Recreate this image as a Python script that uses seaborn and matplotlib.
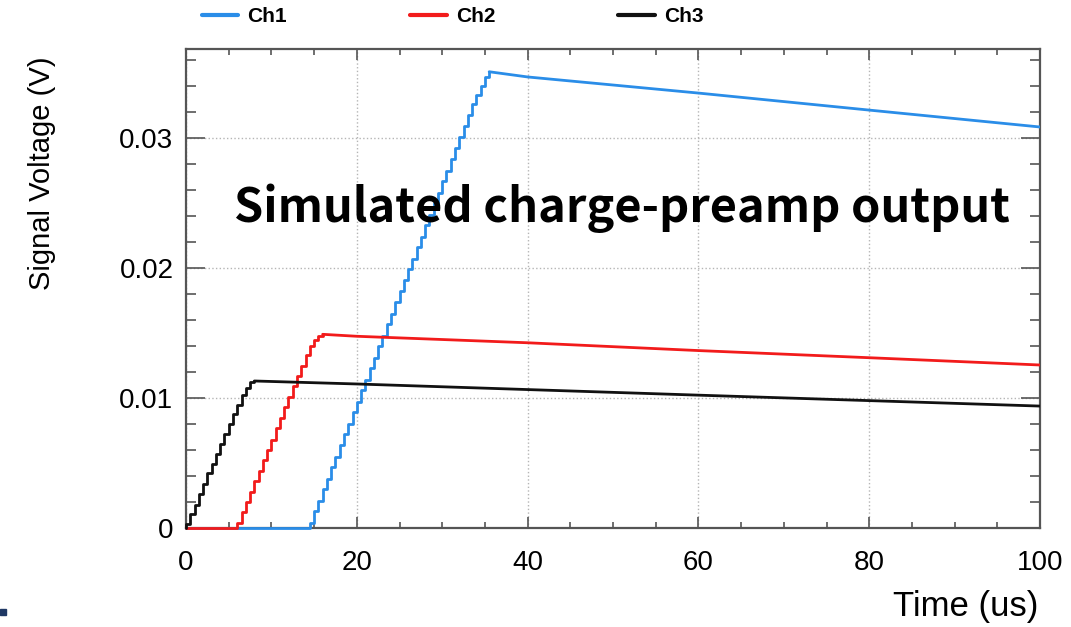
import numpy as np
import pandas as pd
import matplotlib
matplotlib.use('Agg')
import matplotlib.pyplot as plt
import seaborn as sns
from matplotlib.lines import Line2D
from matplotlib.patches import Rectangle
from matplotlib.ticker import MultipleLocator

channels = ['Ch1', 'Ch2', 'Ch3']
colors = ['#2a8de8', '#f21b1b', '#111111']
bin_width = 0.5  # us

# rising edge: first bin left edge and one value per 0.5 us bin
ch1_rise_start = 14.5
ch1_rise = [0.0004, 0.0013, 0.0021, 0.0030, 0.0038, 0.0047, 0.0055, 0.0064, 0.0072, 0.0080,
            0.0089, 0.0097, 0.0106, 0.0114, 0.0123, 0.0131, 0.0140, 0.0148, 0.0157, 0.0165,
            0.0174, 0.0182, 0.0191, 0.0199, 0.0207, 0.0216, 0.0224, 0.0233, 0.0241, 0.0250,
            0.0258, 0.0267, 0.0275, 0.0284, 0.0292, 0.0301, 0.0309, 0.0318, 0.0326, 0.0333,
            0.0340, 0.0347]
ch2_rise_start = 6.0
ch2_rise = [0.0004, 0.0012, 0.0020, 0.0028, 0.0036, 0.0044, 0.0052, 0.0060, 0.0068, 0.0077,
            0.0085, 0.0093, 0.0101, 0.0109, 0.0117, 0.0125, 0.0133, 0.0140, 0.0145, 0.0148]
ch3_rise_start = 0.0
ch3_rise = [0.0003, 0.0011, 0.0018, 0.0026, 0.0034, 0.0042, 0.0049, 0.0057, 0.0065, 0.0072,
            0.0080, 0.0088, 0.0095, 0.0102, 0.0108, 0.0112]

# slow decay after the peak
ch1_decay_t = [35.5, 40, 60, 80, 100]
ch1_decay = [0.0351, 0.0347, 0.03346, 0.03215, 0.03085]
ch2_decay_t = [16, 20, 40, 60, 80, 100]
ch2_decay = [0.0149, 0.01475, 0.01425, 0.01365, 0.01310, 0.01254]
ch3_decay_t = [8, 20, 40, 60, 80, 100]
ch3_decay = [0.01131, 0.01108, 0.01065, 0.01022, 0.00980, 0.00938]


def _rise_frame(name, start, vals, decay_t, decay_v):
    t = [0.0] + [start + bin_width * i for i in range(len(vals))] + [decay_t[0]]
    v = [0.0] + vals + [decay_v[0]]
    return pd.DataFrame({'time': t, 'voltage': v, 'channel': name})


rise_df = pd.concat([
    _rise_frame('Ch1', ch1_rise_start, ch1_rise, ch1_decay_t, ch1_decay),
    _rise_frame('Ch2', ch2_rise_start, ch2_rise, ch2_decay_t, ch2_decay),
    _rise_frame('Ch3', ch3_rise_start, ch3_rise, ch3_decay_t, ch3_decay),
], ignore_index=True)
decay_df = pd.concat([
    pd.DataFrame({'time': ch1_decay_t, 'voltage': ch1_decay, 'channel': 'Ch1'}),
    pd.DataFrame({'time': ch2_decay_t, 'voltage': ch2_decay, 'channel': 'Ch2'}),
    pd.DataFrame({'time': ch3_decay_t, 'voltage': ch3_decay, 'channel': 'Ch3'}),
], ignore_index=True)

sns.set_style('ticks')
plt.rcParams['font.family'] = ['Liberation Sans', 'DejaVu Sans']
plt.rcParams['text.color'] = 'black'
plt.rcParams['axes.labelcolor'] = 'black'
plt.rcParams['xtick.labelcolor'] = 'black'
plt.rcParams['ytick.labelcolor'] = 'black'

fig = plt.figure(figsize=(10.71, 6.27), dpi=100)
ax = fig.add_axes([186 / 1071, 1 - 528 / 627, 854 / 1071, 479 / 627])

pal = dict(zip(channels, colors))
for name in channels:
    sns.lineplot(data=rise_df[rise_df.channel == name], x='time', y='voltage', color=pal[name],
                 drawstyle='steps-post', estimator=None, sort=False, lw=2.0, ax=ax,
                 clip_on=False, zorder=3)
    sns.lineplot(data=decay_df[decay_df.channel == name], x='time', y='voltage', color=pal[name],
                 estimator=None, sort=False, lw=2.0, ax=ax, zorder=3)

ax.set_xlim(0, 100)
ax.set_ylim(0, 0.03685)
ax.xaxis.set_minor_locator(MultipleLocator(5))
ax.yaxis.set_minor_locator(MultipleLocator(0.002))
ax.set_xticks([0, 20, 40, 60, 80, 100])
ax.set_xticklabels(['0', '20', '40', '60', '80', '100'])
ax.set_yticks([0, 0.01, 0.02, 0.03])
ax.set_yticklabels(['0', '0.01', '0.02', '0.03'])
ax.tick_params(which='both', direction='in', top=True, right=True, color='#555555', width=1.2,
               labelsize=20)
ax.tick_params(axis='x', which='major', length=8, pad=16)
ax.tick_params(axis='x', which='minor', length=4)
ax.tick_params(axis='y', which='major', length=14, pad=9)
ax.tick_params(axis='y', which='minor', length=7)
ax.grid(which='major', linestyle=':', color='#b5b5b5', lw=1.0)
for s in ax.spines.values():
    s.set_color('#555555')
    s.set_linewidth(1.6)

ax.set_xlabel('Time (us)', fontsize=25, loc='right')
ax.xaxis.set_label_coords(0.998, -0.13)
ax.set_ylabel('Signal Voltage (V)', fontsize=21, loc='top')
ax.yaxis.set_label_coords(-0.152, 0.985)

ax.text(0.056, 0.668, 'Simulated charge-preamp output', transform=ax.transAxes,
        fontsize=33.8, fontweight='bold', va='center', ha='left', color='black',
        family=['Noto Sans CJK JP', 'DejaVu Sans'])

handles = [Line2D([], [], color=c, lw=3) for c in colors]
fig.legend(handles, channels, loc='center left', bbox_to_anchor=(183 / 1071, 1 - 17 / 627),
           ncol=3, frameon=False, handlelength=1.75, handletextpad=0.45, columnspacing=5.9,
           prop={'size': 15, 'weight': 'bold'})

fig.patches.append(Rectangle((0, 1 - 615 / 627), 6 / 1071, 6 / 627, transform=fig.transFigure,
                             color='#1f3864', figure=fig))

fig.savefig('out.png', dpi=100)
